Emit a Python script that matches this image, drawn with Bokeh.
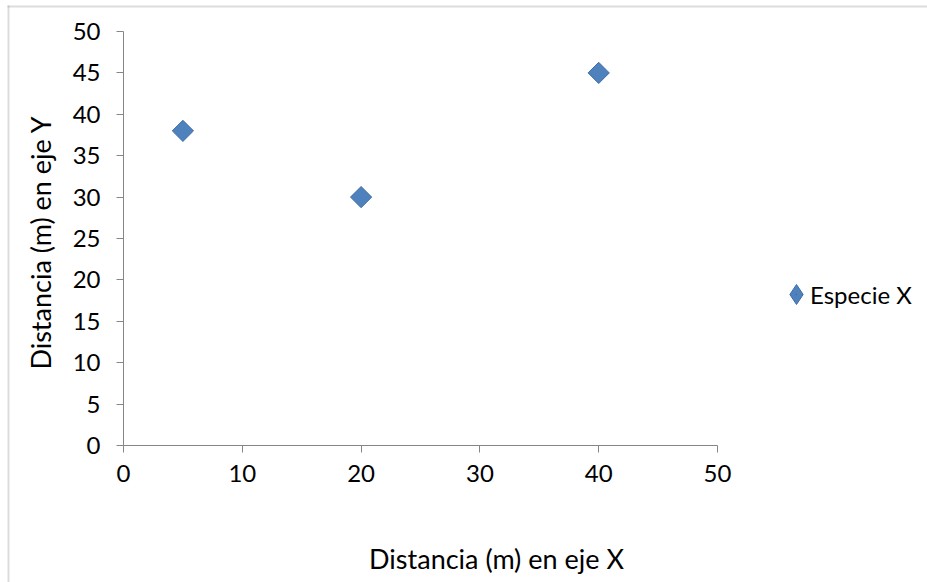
from bokeh.embed import file_html
from bokeh.models import (FixedTicker, Label, Legend, LegendItem,
                          PolyAnnotation, Range1d)
from bokeh.plotting import figure
from bokeh.resources import INLINE
from math import pi

# Positions of the specimens (metres along each axis)
x_m = [5, 20, 40]
y_m = [38, 30, 45]
series_name = "Especie X"

x_ticks = [0, 10, 20, 30, 40, 50]
y_ticks = [0, 5, 10, 15, 20, 25, 30, 35, 40, 45, 50]

x_title = "Distancia (m) en eje X"
y_title = "Distancia (m) en eje Y"

FONT = "Lato"
AXIS_GREY = "#868686"
BORDER_GREY = "#8C8C8C"
BLUE = "#4F81BD"
BLUE_EDGE = "#3E6EA8"

# The frame fills the whole canvas; the axes are pinned at 0 and bounded to
# 0..50, so the plot area proper is the box below (canvas pixels).
W, H = 927, 582
PX_L, PX_R = 123, 717      # x = 0 and x = 50
PX_T, PX_B = 31, 445       # y = 50 and y = 0
X_MAX = Y_MAX = 50

kx = X_MAX / (PX_R - PX_L)
ky = Y_MAX / (PX_B - PX_T)
x_range = Range1d(-PX_L * kx, (W - PX_L) * kx)
y_range = Range1d(-(H - PX_B) * ky, Y_MAX + PX_T * ky)

p = figure(
    width=W, height=H, x_range=x_range, y_range=y_range,
    output_backend="svg", toolbar_location=None, tools="",
    min_border=0,
)
p.outline_line_color = None
p.grid.visible = False
p.background_fill_color = "white"
p.border_fill_color = "white"

for ax, ticks in ((p.xaxis, x_ticks), (p.yaxis, y_ticks)):
    ax.fixed_location = 0
    ax.bounds = (0, 50)
    ax.ticker = FixedTicker(ticks=ticks)
    ax.axis_line_color = AXIS_GREY
    ax.major_tick_line_color = AXIS_GREY
    ax.major_tick_out = 7
    ax.major_tick_in = 0
    ax.minor_tick_line_color = None
    ax.major_label_text_font = FONT
    ax.major_label_text_font_size = "24px"
    ax.major_label_text_color = "black"
p.xaxis.major_label_standoff = 12
p.yaxis.major_label_standoff = 16

# chart-area border: only its left and top edges fall inside the page
for bx, by in (([8, 8], [0, H - 5]), ([7, W], [H - 6, H - 6])):
    p.add_layout(PolyAnnotation(xs=bx, ys=by,
                                xs_units="screen", ys_units="screen",
                                fill_alpha=0, line_color=BORDER_GREY,
                                line_width=2))

r = p.scatter(x_m, y_m, marker="square", size=15, angle=pi / 4,
              fill_color=BLUE, line_color=BLUE_EDGE, line_width=1)

# upright diamond used only as the legend swatch (hidden on the plot)
swatch = p.scatter(x_m, y_m, marker="diamond", visible=False,
                   fill_color=BLUE, line_color=BLUE_EDGE, line_width=1)

# axis titles
p.add_layout(Label(x=496, y=H - 558, x_units="screen", y_units="screen",
                   text=x_title, text_font=FONT, text_font_size="27px",
                   text_color="black", text_align="center",
                   text_baseline="middle"))
p.add_layout(Label(x=40, y=H - 242, x_units="screen", y_units="screen",
                   text=y_title, text_font=FONT, text_font_size="27px",
                   text_color="black", angle=pi / 2, text_align="center",
                   text_baseline="middle"))

# legend: a large swatch box, and the series label beside it
swatch_legend = Legend(
    items=[LegendItem(label=" ", renderers=[swatch])],
    location=(771, H - 319), padding=0, margin=0, spacing=0,
    glyph_width=50, glyph_height=50, label_standoff=0,
    border_line_color=None, background_fill_alpha=0,
    inactive_fill_alpha=0, label_text_font_size="2px",
)
label_legend = Legend(
    items=[LegendItem(label=series_name, renderers=[r])],
    location=(795, H - 309), padding=0, margin=0, spacing=0,
    glyph_width=2, glyph_height=30, label_height=30, label_standoff=13,
    border_line_color=None, background_fill_alpha=0,
    label_text_font=FONT, label_text_font_size="24px",
    label_text_color="black",
)
p.add_layout(swatch_legend)
p.add_layout(label_legend)

open("out.html", "w").write(file_html(p, INLINE))
